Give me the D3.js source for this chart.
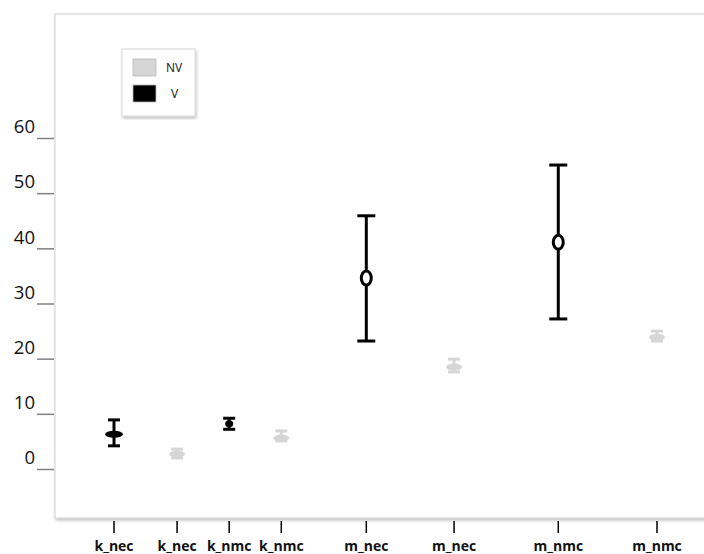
<!DOCTYPE html>
<html>
<head>
<meta charset="utf-8">
<script src="https://cdnjs.cloudflare.com/ajax/libs/d3/7.8.5/d3.min.js"></script>
<style>
  body { margin: 0; background: #fff; }
  svg { display: block; }
</style>
</head>
<body>
<div id="visual"></div>
<script>
// categories in plot order (tick labels)
const categories = ["k_nec", "k_nec", "k_nmc", "k_nmc", "m_nec", "m_nec", "m_nmc", "m_nmc"];
const groups = ["V", "NV", "V", "NV", "V", "NV", "V", "NV"];
// slot along the x axis (category spacing is uneven in the original)
const slots = [1.0, 2.15, 3.1, 4.05, 5.6, 7.2, 9.1, 10.9];
// mean and error bar ends
const means = [6.3, 2.7, 8.2, 5.6, 34.6, 18.5, 41.1, 23.9];
const lows = [4.2, 2.0, 7.2, 5.1, 23.2, 17.6, 27.2, 23.2];
const highs = [8.9, 3.6, 9.2, 6.9, 45.9, 19.9, 55.1, 25.0];
const yTicks = [0, 10, 20, 30, 40, 50, 60];
const legendItems = ["NV", "V"];

const w = 704, h = 554;
const colors = { V: "#000000", NV: "#d6d6d6" };
// half width of the flat mean marker on the short bars
const blobRx = [9, 8, 4, 8, 0, 8, 0, 8];

const svg = d3.select("#visual").append("svg")
  .attr("width", w).attr("height", h);

const defs = svg.append("defs");
const f = defs.append("filter").attr("id", "shadow")
  .attr("x", "-5%").attr("y", "-5%").attr("width", "110%").attr("height", "110%");
f.append("feDropShadow").attr("dx", 1).attr("dy", 2).attr("stdDeviation", 1.5)
  .attr("flood-color", "#000").attr("flood-opacity", 0.25);
const blur = defs.append("filter").attr("id", "soft");
blur.append("feGaussianBlur").attr("stdDeviation", 0.6);

const xScale = d3.scaleLinear().domain([1, 10.9]).range([114, 657]);
const yScale = d3.scaleLinear().domain([0, 60]).range([469, 138]);

// plot frame
svg.append("rect")
  .attr("x", 55).attr("y", 14).attr("width", 700).attr("height", 504)
  .attr("fill", "#fff").attr("stroke", "#d0d0d0").attr("stroke-width", 1)
  .attr("filter", "url(#shadow)");

// y axis
const yAxis = d3.axisLeft(yScale).tickValues(yTicks).tickSize(0).tickFormat(d3.format("d"));
const gy = svg.append("g").attr("transform", "translate(37,0)").call(yAxis);
gy.select(".domain").remove();
gy.selectAll(".tick line").remove();
gy.selectAll(".tick").append("line")
  .attr("x1", 0).attr("x2", 17).attr("y1", 0).attr("y2", 0)
  .attr("stroke", "#808080").attr("stroke-width", 1.5);
gy.selectAll(".tick text")
  .attr("x", -2).attr("dy", "-0.28em")
  .attr("font-family", "'Open Sans', sans-serif").attr("font-size", 18.5)
  .attr("fill", "#111");

// x axis
const gx = svg.append("g").attr("transform", "translate(0,521)");
const xt = gx.selectAll("g").data(categories).enter().append("g")
  .attr("transform", (d, i) => "translate(" + xScale(slots[i]) + ",0)");
xt.append("line").attr("y1", 0).attr("y2", 12)
  .attr("stroke", "#000").attr("stroke-width", 1.5);
xt.append("text").attr("y", 30).attr("text-anchor", "middle")
  .attr("font-family", "'Open Sans', sans-serif").attr("font-weight", "bold")
  .attr("font-size", 14).attr("fill", "#111")
  .text(d => d);

// error bars
const marks = svg.append("g").selectAll("g").data(means).enter().append("g")
  .attr("transform", (d, i) => "translate(" + xScale(slots[i]) + ",0)");

marks.each(function (d, i) {
  const g = d3.select(this);
  const c = colors[groups[i]];
  const big = (highs[i] - lows[i]) > 10;
  const capW = big ? 9 : 6;
  g.append("line")
    .attr("y1", yScale(highs[i])).attr("y2", yScale(lows[i]))
    .attr("stroke", c).attr("stroke-width", 3);
  [highs[i], lows[i]].forEach(v => {
    g.append("line").attr("x1", -capW).attr("x2", capW)
      .attr("y1", yScale(v)).attr("y2", yScale(v))
      .attr("stroke", c).attr("stroke-width", 3);
  });
  if (big) {
    g.append("ellipse").attr("cy", yScale(d)).attr("rx", 5).attr("ry", 7)
      .attr("fill", "#fff").attr("stroke", c).attr("stroke-width", 3);
  } else {
    g.append("ellipse").attr("cy", yScale(d))
      .attr("rx", blobRx[i]).attr("ry", 3.5)
      .attr("fill", c).attr("filter", "url(#soft)");
  }
});

// legend
const lg = svg.append("g").attr("transform", "translate(122,49)");
lg.append("rect").attr("width", 73).attr("height", 67)
  .attr("fill", "#fff").attr("stroke", "#d8d8d8").attr("filter", "url(#shadow)");
const li = lg.selectAll("g.item").data(legendItems).enter().append("g")
  .attr("class", "item")
  .attr("transform", (d, i) => "translate(11," + (10 + i * 26) + ")");
li.append("rect").attr("width", 23).attr("height", 17)
  .attr("fill", d => colors[d]).attr("stroke", "#bbb").attr("stroke-width", 0.8);
li.append("text").attr("x", d => d === "NV" ? 33 : 38).attr("y", 13)
  .attr("font-family", "'Open Sans', sans-serif").attr("font-size", 12)
  .attr("fill", "#111").text(d => d);
</script>
</body>
</html>
